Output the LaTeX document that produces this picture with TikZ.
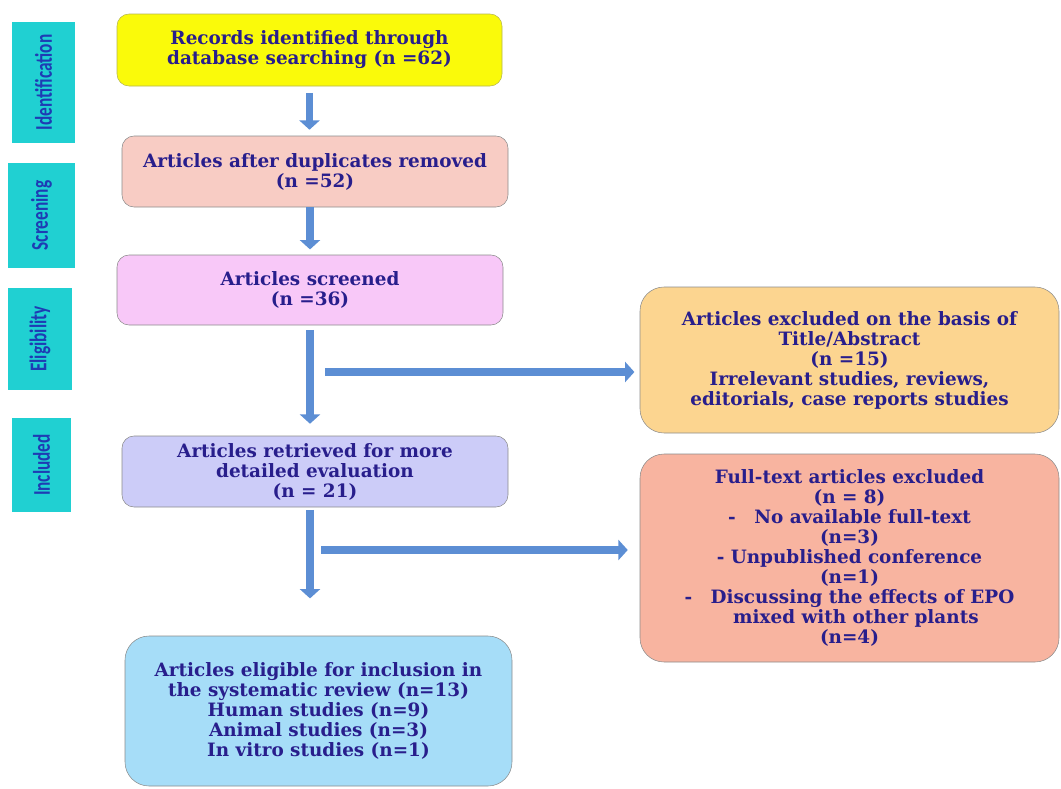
\documentclass[tikz,border=0pt]{standalone}
\usepackage{fontspec}
\setmainfont{DejaVu Serif}
\newfontfamily\sidefont[FakeStretch=0.72]{Carlito}
\usetikzlibrary{positioning}
\usetikzlibrary{arrows.meta}
\definecolor{txtblue}{RGB}{40,30,140}
\definecolor{sideblue}{RGB}{30,60,180}
\definecolor{sidecyan}{RGB}{32,208,210}
\definecolor{boxgray}{RGB}{140,140,140}
\definecolor{arrowblue}{RGB}{92,142,212}
\definecolor{recfill}{RGB}{250,250,10}
\definecolor{dupfill}{RGB}{248,204,196}
\definecolor{scrfill}{RGB}{248,200,248}
\definecolor{retfill}{RGB}{204,204,248}
\definecolor{exafill}{RGB}{252,213,144}
\definecolor{exbfill}{RGB}{248,180,160}
\definecolor{finfill}{RGB}{166,221,248}
\tikzset{main box/.style={draw=boxgray, rounded corners=9pt, align=center, text=txtblue,
    font=\bfseries\fontsize{13.8}{15}\selectfont, inner sep=2pt},
  side box/.style={fill=sidecyan, rotate=90, text=sideblue,
    font=\sidefont\bfseries\fontsize{18}{20}\selectfont, inner sep=0pt},
  flow arrow/.style={draw=arrowblue, line width=5.5pt, -{Triangle[width=15pt,length=7pt]}},}

\begin{document}
\begin{tikzpicture}[x=0.75pt,y=-0.75pt]
  \useasboundingbox (0,0) rectangle (1061,789);
  % stage labels
  \node[side box, minimum width=90.75pt, minimum height=47.25pt] (sid) at (43.5,82.5) {Identification};
  \node[side box, minimum width=78.75pt, minimum height=50.25pt] (sscr) at (41.5,215.5) {Screening};
  \node[side box, minimum width=76.5pt, minimum height=48pt] (selg) at (40,339) {Eligibility};
  \node[side box, minimum width=70.5pt, minimum height=44.25pt] (sinc) at (41.5,465) {Included};

  % main flow
  \node[main box, draw=recfill!60!black!70, fill=recfill, minimum width=288.75pt, minimum height=54pt] (rec) at (309.5,50)
    {Records identified through\\database searching (n =62)};
  \node[main box, fill=dupfill, minimum width=289.5pt, minimum height=53.25pt] (dup) at (315,171.5)
    {Articles after duplicates removed\\(n =52)};
  \node[main box, fill=scrfill, minimum width=289.5pt, minimum height=52.5pt] (scr) at (310,290)
    {Articles screened\\(n =36)};
  \node[main box, fill=retfill, minimum width=289.5pt, minimum height=53.25pt] (ret) at (315,471.5)
    {Articles retrieved for more\\detailed evaluation\\(n = 21)};
  \node[main box, rounded corners=18pt, fill=finfill, minimum width=290.25pt, minimum height=112.5pt] (fin) at (318.5,711)
    {Articles eligible for inclusion in\\the systematic review (n=13)\\Human studies (n=9)\\Animal studies (n=3)\\In vitro studies (n=1)};

  % exclusions
  \node[main box, rounded corners=18pt, fill=exafill, minimum width=314.25pt, minimum height=109.5pt] (exa) at (849.5,360)
    {Articles excluded on the basis of\\Title/Abstract\\(n =15)\\Irrelevant studies, reviews,\\editorials, case reports studies};
  \node[main box, rounded corners=18pt, fill=exbfill, minimum width=314.25pt, minimum height=156pt] (exb) at (849.5,558)
    {Full-text articles excluded\\(n = 8)\\-\quad No available full-text\\(n=3)\\- Unpublished conference\\(n=1)\\-\quad Discussing the effects of EPO\\\ \ mixed with other plants\\(n=4)};

  \coordinate (ha) at (325,372);
  \coordinate (hb) at (321,550);

  \draw[flow arrow, shorten <=5pt, shorten >=4.5pt] (rec.south) -- (rec.south |- dup.north);
  \draw[flow arrow, shorten >=4pt] (scr.north |- dup.south) -- (scr.north);
  \draw[flow arrow, shorten <=3.5pt, shorten >=9pt] (scr.south) -- (scr.south |- ret.north);
  \draw[flow arrow, shorten <=2pt, shorten >=28pt] (scr.south |- ret.south) -- (scr.south |- fin.north);
  \draw[flow arrow, shorten >=4pt] (ha) -- (ha -| exa.west);
  \draw[flow arrow, shorten >=9pt] (hb) -- (hb -| exb.west);
\end{tikzpicture}
\end{document}
